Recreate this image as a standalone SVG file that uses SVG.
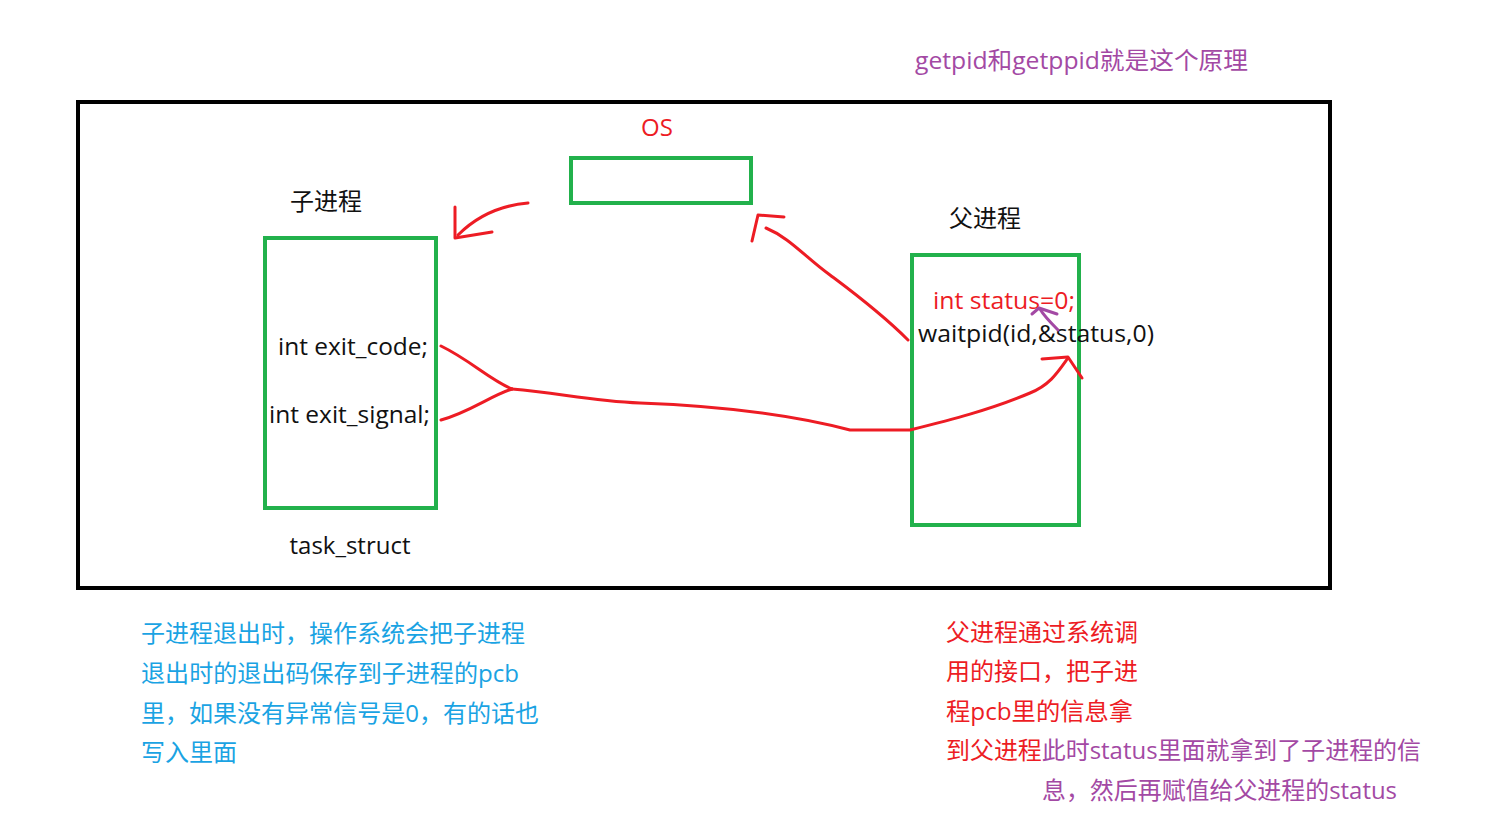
<svg xmlns="http://www.w3.org/2000/svg" width="1505" height="829" viewBox="0 0 1505 829">
<defs>
<style>
text{font-family:"Open Sans","Noto Sans CJK SC",sans-serif;font-size:24px}
.k{fill:#111}
.r{fill:#ed1c24}
.b{fill:#1aa3e3}
.p{fill:#a349a4}
.box{fill:none;stroke:#22b14c;stroke-width:4}
.ink{fill:none;stroke:#ed1c24;stroke-width:3;stroke-linecap:round;stroke-linejoin:round}
.pink{fill:none;stroke:#a349a4;stroke-width:3;stroke-linecap:round;stroke-linejoin:round}
</style>
</defs>
<rect width="1505" height="829" fill="#fff"/>
<rect id="frame" x="78" y="102" width="1252" height="486" fill="none" stroke="#000" stroke-width="4"/>
<text class="p" x="915" y="69" textLength="333" lengthAdjust="spacingAndGlyphs">getpid和getppid就是这个原理</text>
<g id="os">
<text class="r" x="657" y="136" text-anchor="middle">OS</text>
<rect class="box" x="571" y="158" width="180" height="45"/>
</g>
<g id="child">
<text class="k" x="326" y="210" text-anchor="middle">子进程</text>
<rect class="box" x="265" y="238" width="171" height="270"/>
<text class="k" x="278" y="355" textLength="150" lengthAdjust="spacingAndGlyphs">int exit_code;</text>
<text class="k" x="269" y="423" textLength="161" lengthAdjust="spacingAndGlyphs">int exit_signal;</text>
<text class="k" x="350" y="554" text-anchor="middle">task_struct</text>
</g>
<g id="parent">
<text class="k" x="985" y="227" text-anchor="middle">父进程</text>
<rect class="box" x="912" y="255" width="167" height="270"/>
<text class="r" x="933" y="309" textLength="142" lengthAdjust="spacingAndGlyphs">int status=0;</text>
<text class="k" x="918" y="342" textLength="236" lengthAdjust="spacingAndGlyphs">waitpid(id,&amp;status,0)</text>
</g>
<g id="connectors">
<path class="ink" d="M528,203 C505,205 480,213 458,235"/>
<path class="ink" d="M455,207 L455,238 L492,232"/>
<path class="ink" d="M908,340 C880,312 850,290 830,275 C805,257 790,238 766,228"/>
<path class="ink" d="M752,241 L758,215 L784,217"/>
<path class="ink" d="M441,346 C470,360 490,380 512,389"/>
<path class="ink" d="M441,420 C470,412 490,396 512,389"/>
<path class="ink" d="M512,389 C560,393 590,401 640,403 C720,406 790,414 850,430 L910,430 C950,420 990,410 1030,393 C1050,385 1058,372 1068,358"/>
<path class="ink" d="M1042,359 L1068,357 L1082,378"/>
<path class="pink" d="M1058,330 C1050,322 1044,316 1040,309"/>
<path class="pink" d="M1032,314 L1039,308 L1057,314"/>
</g>
<g id="note-left">
<text class="b" x="141" y="642">子进程退出时，操作系统会把子进程</text>
<text class="b" x="141" y="682" textLength="378" lengthAdjust="spacingAndGlyphs">退出时的退出码保存到子进程的pcb</text>
<text class="b" x="141" y="722" textLength="398" lengthAdjust="spacingAndGlyphs">里，如果没有异常信号是0，有的话也</text>
<text class="b" x="141" y="761">写入里面</text>
</g>
<g id="note-right">
<text class="r" x="946" y="641">父进程通过系统调</text>
<text class="r" x="946" y="680">用的接口，把子进</text>
<text class="r" x="946" y="720" textLength="187" lengthAdjust="spacingAndGlyphs">程pcb里的信息拿</text>
<text x="946" y="759" textLength="475" lengthAdjust="spacingAndGlyphs"><tspan class="r">到父进程</tspan><tspan class="p">此时status里面就拿到了子进程的信</tspan></text>
<text class="p" x="1042" y="799" textLength="355" lengthAdjust="spacingAndGlyphs">息，然后再赋值给父进程的status</text>
</g>
</svg>
